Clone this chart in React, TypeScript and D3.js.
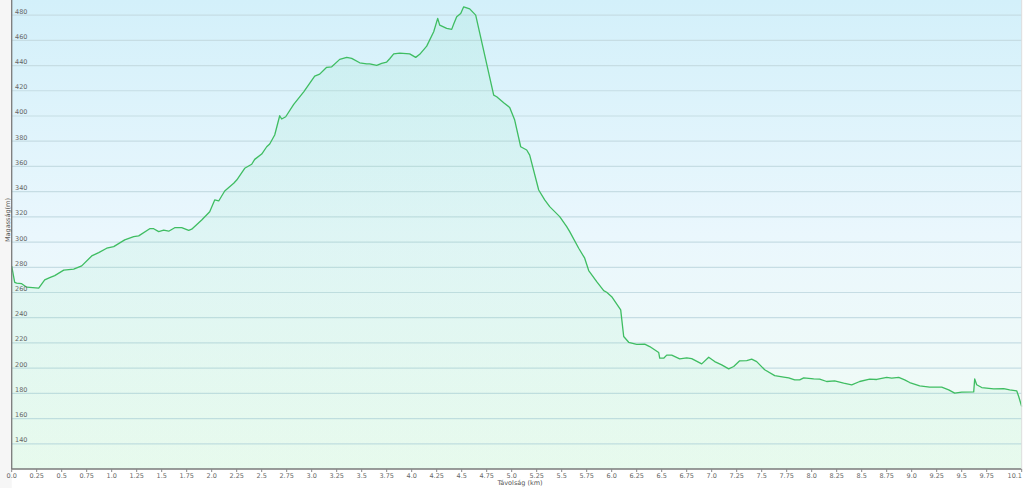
import React from "react";
import * as d3 from "d3";

const distanceKm = [0, 0.03, 0.05, 0.10, 0.15, 0.27, 0.33, 0.38, 0.43, 0.52, 0.62, 0.70, 0.80, 0.87, 0.95, 1.02, 1.13, 1.22, 1.27, 1.38, 1.42, 1.47, 1.52, 1.57, 1.63, 1.70, 1.77, 1.80, 1.90, 1.98, 2.03, 2.07, 2.13, 2.22, 2.25, 2.33, 2.40, 2.43, 2.50, 2.55, 2.58, 2.63, 2.68, 2.70, 2.74, 2.82, 2.92, 3.03, 3.08, 3.15, 3.20, 3.28, 3.35, 3.40, 3.48, 3.55, 3.58, 3.65, 3.70, 3.75, 3.78, 3.82, 3.88, 3.98, 4.04, 4.08, 4.15, 4.22, 4.26, 4.28, 4.35, 4.40, 4.42, 4.45, 4.49, 4.52, 4.58, 4.64, 4.82, 4.85, 4.92, 4.98, 5.03, 5.09, 5.15, 5.18, 5.27, 5.33, 5.38, 5.48, 5.55, 5.58, 5.67, 5.73, 5.77, 5.85, 5.92, 5.95, 6.00, 6.09, 6.12, 6.17, 6.25, 6.33, 6.38, 6.47, 6.48, 6.52, 6.55, 6.60, 6.68, 6.75, 6.80, 6.90, 6.97, 7.03, 7.10, 7.17, 7.22, 7.28, 7.35, 7.40, 7.45, 7.53, 7.63, 7.72, 7.77, 7.83, 7.88, 7.92, 8.02, 8.08, 8.15, 8.23, 8.32, 8.40, 8.48, 8.58, 8.65, 8.75, 8.80, 8.87, 8.93, 8.98, 9.08, 9.18, 9.30, 9.37, 9.43, 9.50, 9.62, 9.63, 9.65, 9.70, 9.82, 9.92, 9.98, 10.05, 10.07, 10.10];

const elevationM = [281, 268, 267.4, 267, 264.2, 263.4, 270, 271.8, 273.4, 277.7, 278.5, 281.1, 289, 291.6, 295.1, 296.4, 301.7, 304.3, 304.9, 310.6, 310.6, 308.3, 309.4, 308.6, 311.4, 311.4, 309.2, 310.2, 317.5, 324.1, 333.4, 332.6, 340.5, 346.6, 349.2, 358.5, 361.7, 365.6, 369.8, 375.6, 377.8, 384.9, 400.2, 397.6, 399.4, 409.2, 419.2, 431.7, 433.2, 438.6, 439, 444.9, 446.5, 445.7, 442.2, 441.4, 441.4, 440.1, 441.7, 442.8, 445.4, 449.3, 449.9, 449.3, 446.5, 448.9, 455.4, 466.8, 477.4, 472.1, 469.5, 468.7, 472.9, 478.7, 481.3, 486.6, 485, 480, 416.6, 415.3, 410.5, 406.8, 396.8, 375.6, 373, 369, 341.3, 333.4, 328.1, 320.2, 312.2, 308.3, 295.1, 287.2, 277.4, 268.6, 261.5, 260.2, 256.7, 246.2, 225.1, 220.5, 218.8, 219, 217.1, 212.4, 207.9, 207.9, 210.3, 210.3, 207.4, 208.2, 207.6, 203.4, 208.7, 205.2, 202.6, 199.4, 201.3, 205.8, 206, 207.1, 205.2, 198.7, 194.1, 192.9, 192.3, 190.7, 190.7, 192.3, 191.5, 191.3, 189.4, 189.9, 188.1, 186.8, 189.4, 191.3, 191, 192.6, 192.1, 192.6, 190.7, 188.6, 186, 184.9, 184.9, 182.8, 180.2, 181, 181.2, 191.5, 186.8, 184.6, 183.6, 183.8, 182.8, 182, 177.5, 169.6];

const yTickValues = [140, 160, 180, 200, 220, 240, 260, 280, 300, 320, 340, 360, 380, 400, 420, 440, 460, 480];
const xTickValues = d3.range(0, 40).map((i) => i * 0.25);
const xEndTick = 10.1;
const xTitle = "Távolság (km)";
const yTitle = "Magasság(m)";

const W = 1023;
const H = 488;
const left = 11.7;
const right = 1021.7;
const top = 0;
const bottom = 469;

const fmtX = (v: number) => (Math.round(v * 4) % 2 === 1 ? v.toFixed(2) : v.toFixed(1));

export default function App() {
  const x = d3.scaleLinear().domain([0, 10.1]).range([left, right]);
  const y = d3.scaleLinear().domain([120, 492]).range([bottom, top]);
  const pts = distanceKm.map((d, i) => [d, elevationM[i]] as [number, number]);
  const line = d3.line<[number, number]>().x((d) => x(d[0])).y((d) => y(d[1]))(pts) || "";
  const area = d3
    .area<[number, number]>()
    .x((d) => x(d[0]))
    .y0(bottom)
    .y1((d) => y(d[1]))(pts) || "";
  const font = "Verdana, DejaVu Sans, sans-serif";
  return (
    <svg width={W} height={H} style={{ position: "absolute", left: 0, top: 0, background: "#ffffff" }}>
      <defs>
        <linearGradient id="bg" x1="0" y1="0" x2="0" y2="1">
          <stop offset="0" stopColor="#d3f0fa" />
          <stop offset="0.5" stopColor="#eaf7fd" />
          <stop offset="1" stopColor="#f2fcf4" />
        </linearGradient>
        <linearGradient id="ar" x1="0" y1="0" x2="0" y2="1">
          <stop offset="0" stopColor="#5fdba0" stopOpacity="0.10" />
          <stop offset="1" stopColor="#7be8a6" stopOpacity="0.09" />
        </linearGradient>
      </defs>
      <rect x={0} y={0} width={left} height={H} fill="#f6f6f6" />
      <rect x={left} y={top} width={right - left} height={bottom - top} fill="url(#bg)" />
      {yTickValues.map((v) => (
        <line key={v} x1={left} x2={right} y1={y(v)} y2={y(v)} stroke="#c6dde4" strokeWidth={1.2} />
      ))}
      <path d={area} fill="url(#ar)" />
      <path d={line} fill="none" stroke="#3fbd62" strokeWidth={1.3} strokeLinejoin="round" />
      {yTickValues.map((v) => (
        <text key={"t" + v} x={15} y={y(v) - 1.5} fontSize={6.5} fill="#666" fontFamily={font}>
          {v}
        </text>
      ))}
      <line x1={left} x2={left} y1={top} y2={bottom} stroke="#7a7a7a" strokeWidth={1.3} />
      <line x1={left} x2={right} y1={bottom} y2={bottom} stroke="#7a7a7a" strokeWidth={1.3} />
      <line x1={right} x2={right} y1={top} y2={bottom} stroke="#dddddd" strokeWidth={1} />
      {xTickValues.map((v) => (
        <g key={"x" + v}>
          <line x1={x(v)} x2={x(v)} y1={bottom} y2={bottom + 3} stroke="#888" strokeWidth={1} />
          <text x={x(v)} y={477.5} fontSize={6.5} fill="#666" textAnchor="middle" fontFamily={font}>
            {fmtX(v)}
          </text>
        </g>
      ))}
      <line x1={x(xEndTick)} x2={x(xEndTick)} y1={bottom} y2={bottom + 3} stroke="#888" strokeWidth={1} />
      <text x={1022} y={477.5} fontSize={6.5} fill="#666" textAnchor="end" fontFamily={font}>
        {String(xEndTick)}
      </text>
      <text x={520} y={485} fontSize={6.5} fill="#555" textAnchor="middle" fontFamily={font}>
        {xTitle}
      </text>
      <text transform={`translate(9.5, 220) rotate(-90)`} fontSize={6.5} fill="#555" textAnchor="middle" fontFamily={font}>
        {yTitle}
      </text>
    </svg>
  );
}
